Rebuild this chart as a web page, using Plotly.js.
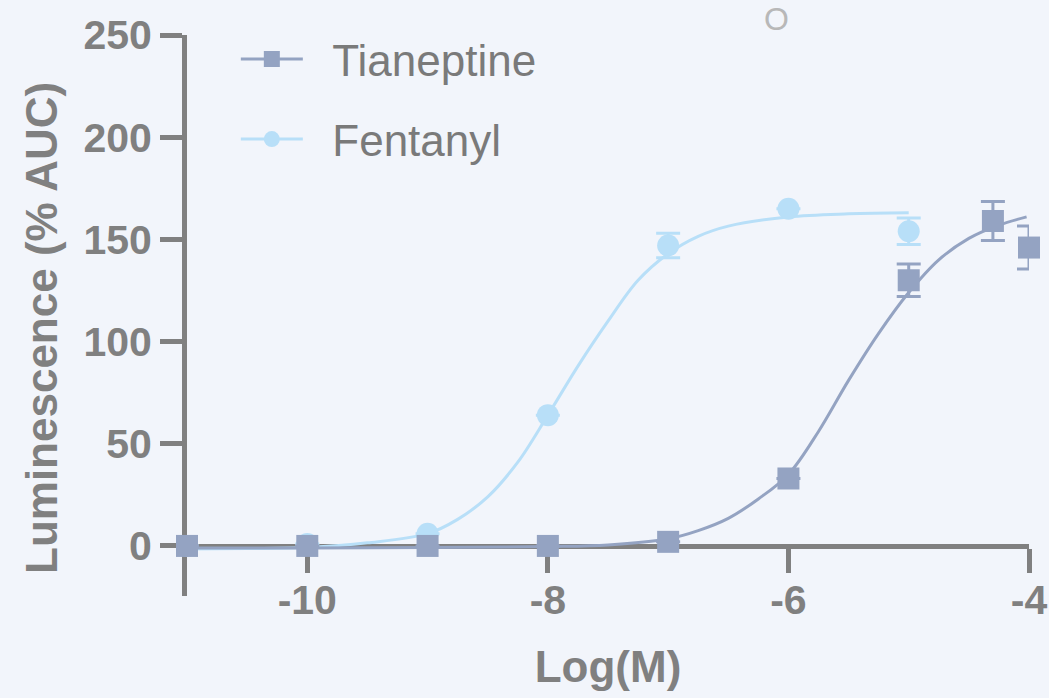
<!DOCTYPE html>
<html>
<head>
<meta charset="utf-8">
<script src="https://cdn.plot.ly/plotly-3.0.1.min.js"></script>
<style>
html,body{margin:0;padding:0;background:#f2f5fb;}
#chart{width:1049px;height:698px;}
</style>
</head>
<body>
<div id="chart"></div>
<script>
// Measured points (Log[M] vs luminescence %AUC)
var tianX = [-11, -10, -9, -8, -7, -6, -5, -4.3, -4];
var tianY = [0, 0, 0, 0, 2, 33, 130, 159, 146];
var tianErr = [0, 0, 0, 0, 0, 0, 8, 9.5, 10.5];

var fentX = [-11, -10, -9, -8, -7, -6, -5];
var fentY = [0, 1, 6, 64, 147, 165, 154];
var fentErr = [0, 0, 0, 0, 6, 0, 6.5];

// Fitted curves
var tianFitX = [-11, -10, -9, -8, -7.5, -7, -6.75, -6.5, -6.25, -6, -5.75, -5.5, -5.25, -5, -4.75, -4.5, -4.25, -4.02];
var tianFitY = [-1, -1, -0.8, -0.3, 0.5, 3.5, 7.5, 13.5, 23, 35, 56, 81, 104, 124, 140, 150.5, 157, 161];

var fentFitX = [-11, -10.5, -10, -9.5, -9, -8.75, -8.5, -8.25, -8, -7.75, -7.5, -7.25, -7, -6.75, -6.5, -6, -5.5, -5];
var fentFitY = [-1.5, -1.3, -0.8, 1.5, 6, 13, 24, 41, 64, 88, 110, 130, 143, 151.5, 156.5, 161, 162.5, 163];

var seriesNames = ['Tianeptine', 'Fentanyl'];
var xTickVals = [-10, -8, -6, -4];
var xTickText = ['-10', '-8', '-6', '-4'];
var yTickVals = [0, 50, 100, 150, 200, 250];

var tianColor = '#94a3c2';
var fentColor = '#b8dff8';
var axisColor = '#808080';
var pad = '\u00a0\u00a0';

var traces = [
  // legend entries
  {x: [null], y: [null], name: pad + seriesNames[0], mode: 'lines+markers', legendgroup: 'a',
   line: {color: tianColor, width: 3}, marker: {symbol: 'square', size: 22, color: tianColor}},
  {x: [null], y: [null], name: pad + seriesNames[1], mode: 'lines+markers', legendgroup: 'b',
   line: {color: fentColor, width: 3}, marker: {symbol: 'circle', size: 22, color: fentColor}},
  // Fentanyl
  {x: fentFitX, y: fentFitY, mode: 'lines', showlegend: false, hoverinfo: 'skip',
   line: {color: fentColor, width: 3, shape: 'spline'}},
  {x: fentX, y: fentY, mode: 'markers', showlegend: false, cliponaxis: false,
   marker: {symbol: 'circle', size: 22, color: fentColor},
   error_y: {type: 'data', array: fentErr, visible: true, color: fentColor, thickness: 3, width: 12}},
  // Tianeptine
  {x: tianFitX, y: tianFitY, mode: 'lines', showlegend: false, hoverinfo: 'skip',
   line: {color: tianColor, width: 3, shape: 'spline'}},
  {x: tianX, y: tianY, mode: 'markers', showlegend: false, cliponaxis: false,
   marker: {symbol: 'square', size: 22, color: tianColor},
   error_y: {type: 'data', array: tianErr, visible: true, color: tianColor, thickness: 3, width: 12}}
];

var yMin = -24.5, yMax = 250;

var layout = {
  width: 1049, height: 698,
  paper_bgcolor: '#f2f5fb', plot_bgcolor: '#f2f5fb',
  margin: {l: 187, r: 20, t: 35, b: 102},
  font: {family: 'Liberation Sans, Arial, sans-serif', color: axisColor},
  showlegend: true,
  legend: {x: 0.058, y: 1.02, xanchor: 'left', yanchor: 'top', bgcolor: 'rgba(0,0,0,0)',
           font: {size: 44, color: '#7a7a7a'}, itemwidth: 62, traceorder: 'grouped', tracegroupgap: 20},
  xaxis: {
    range: [-11, -4], anchor: 'free', position: (0 - yMin) / (yMax - yMin),
    tickvals: xTickVals, ticktext: xTickText,
    showline: true, linecolor: axisColor, linewidth: 5,
    ticks: 'outside', ticklen: 24, tickwidth: 5, tickcolor: axisColor,
    tickfont: {size: 41, color: axisColor, weight: 'bold'}, ticklabelstandoff: -8,
    showgrid: false, zeroline: false, layer: 'below traces',
    title: {text: 'Log(M)', font: {size: 44, color: axisColor, weight: 'bold'}, standoff: 29}
  },
  yaxis: {
    range: [yMin, yMax], tickvals: yTickVals,
    showline: true, linecolor: axisColor, linewidth: 5,
    ticks: 'outside', ticklen: 22, tickwidth: 5, tickcolor: axisColor,
    tickfont: {size: 41, color: axisColor, weight: 'bold'},
    showgrid: false, zeroline: false, layer: 'below traces'
  },
  annotations: [
    {text: 'Luminescence (% AUC)', textangle: -90, xref: 'paper', yref: 'paper',
     x: (42 - 187) / 842, y: (596 - 328) / 561, xanchor: 'center', yanchor: 'middle',
     showarrow: false, font: {size: 44, color: axisColor, weight: 'bold'}},
    {text: 'O', xref: 'paper', yref: 'paper', x: (776 - 187) / 842, y: (596 - 0) / 561,
     showarrow: false, font: {size: 32, color: '#b8b8b8'}, xanchor: 'center', yanchor: 'top',
     borderpad: 0}
  ]
};

Plotly.newPlot('chart', traces, layout, {displayModeBar: false, staticPlot: true});
</script>
</body>
</html>
